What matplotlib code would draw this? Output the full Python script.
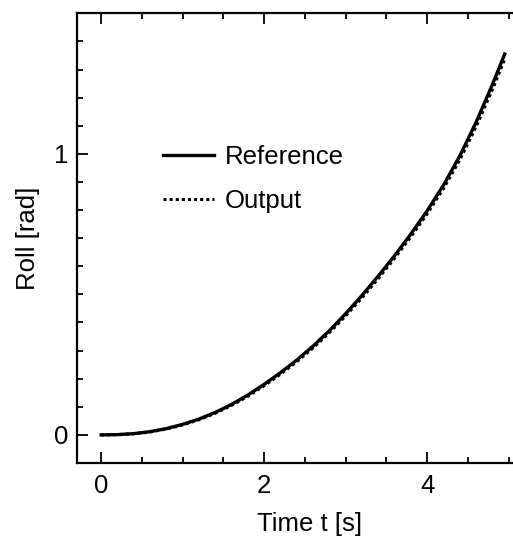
import matplotlib
matplotlib.use("Agg")
import matplotlib.pyplot as plt
from matplotlib.ticker import MultipleLocator, FixedLocator

plt.rcParams['font.family'] = ['Liberation Sans', 'DejaVu Sans']

# time [s] and roll [rad]
t = [0.0, 0.2, 0.4, 0.6, 0.8, 1.0, 1.2, 1.4, 1.6, 1.8, 2.0, 2.2, 2.4,
     2.6, 2.8, 3.0, 3.2, 3.4, 3.6, 3.8, 4.0, 4.2, 4.4, 4.6, 4.8, 4.95]
roll_ref = [0.0, 0.001, 0.0045, 0.0115, 0.0225, 0.0375, 0.0565, 0.080, 0.1085,
            0.142, 0.180, 0.2215, 0.2665, 0.316, 0.371, 0.4315, 0.4965, 0.5655,
            0.638, 0.715, 0.798, 0.889, 0.993, 1.113, 1.247, 1.355]
roll_out = [0.0, 0.0008, 0.004, 0.0104, 0.021, 0.0355, 0.054, 0.077, 0.105,
            0.1375, 0.175, 0.216, 0.2605, 0.3095, 0.3638, 0.4236, 0.488, 0.5566,
            0.6288, 0.705, 0.787, 0.877, 0.979, 1.097, 1.229, 1.337]

fig = plt.figure(figsize=(5.13, 5.37), dpi=100)
ax = fig.add_axes([0.1495, 0.1378, 0.909, 0.8374])

ax.plot(t, roll_ref, color='black', lw=2.4, label='Reference')
ax.plot(t, roll_out, color='black', lw=2.2, linestyle=(0, (1, 1)), label='Output')

ax.set_xlim(-0.3, 5.42)
ax.set_ylim(-0.1, 1.5)

ax.xaxis.set_major_locator(FixedLocator([0, 2, 4]))
ax.xaxis.set_minor_locator(MultipleLocator(0.5))
ax.yaxis.set_major_locator(FixedLocator([0, 1]))
ax.yaxis.set_minor_locator(MultipleLocator(0.1))

ax.tick_params(which='both', direction='in', top=True, right=False, width=1.3)
ax.tick_params(which='major', length=8, labelsize=18.5)
ax.tick_params(axis='x', which='major', pad=8)
ax.tick_params(axis='y', which='major', pad=6)
ax.tick_params(which='minor', length=4)
for s in ax.spines.values():
    s.set_linewidth(1.6)
ax.spines['right'].set_visible(False)

ax.set_xlabel('Time t [s]', fontsize=18.5, labelpad=10)
ax.set_ylabel('Roll [rad]', fontsize=18.5, labelpad=10)

ax.legend(loc='upper left', bbox_to_anchor=(0.185, 0.708), frameon=False,
          fontsize=18.5, handlelength=2.0, handletextpad=0.4,
          labelspacing=0.8, borderpad=0, borderaxespad=0)

fig.savefig('out.png', dpi=100)
